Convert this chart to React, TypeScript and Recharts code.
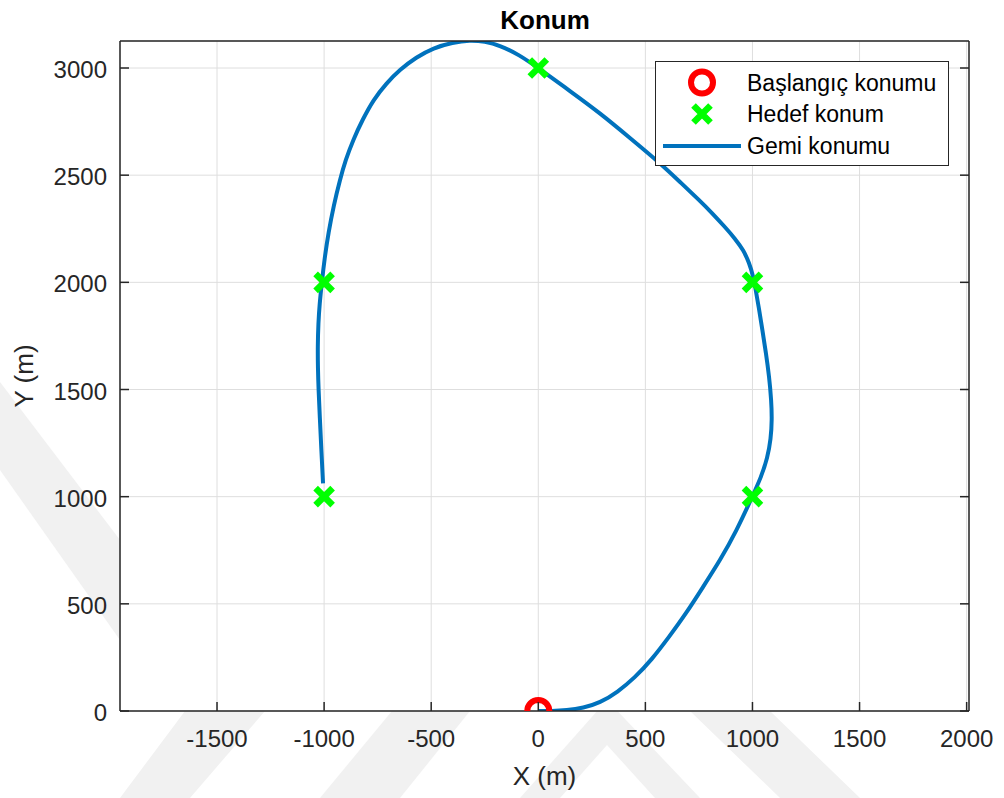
import { CartesianGrid, ComposedChart, Line, Scatter, XAxis, YAxis } from "recharts";

// axis setup (equal aspect)
const xTicks = [-1500, -1000, -500, 0, 500, 1000, 1500, 2000];
const yTicks = [0, 500, 1000, 1500, 2000, 2500, 3000];
const xDomain = [-1953, 2011];
const yDomain = [0, 3126];

// start position
const startX = [0];
const startY = [0];

// target waypoints
const targetX = [-1000, -1000, 0, 1000, 1000];
const targetY = [1000, 2000, 3000, 2000, 1000];

// ship trajectory, in travel order
const pathX = [
  0, 60, 132, 210, 288, 370, 450, 530, 610, 690, 770, 850, 925, 996, 1040, 1070, 1086, 1091,
  1088, 1078, 1063, 1046, 1030, 1016, 1003, 985, 958, 918, 870, 810, 755, 660, 568, 430, 288,
  150, 0, -90, -179, -250, -319, -400, -490, -570, -646, -710, -770, -820, -864, -900, -926,
  -955, -980, -998, -1011, -1021, -1027, -1030, -1029, -1026, -1020, -1013, -1005,
];
const pathY = [
  0, 0, 3, 14, 38, 88, 155, 240, 345, 455, 580, 705, 840, 993, 1090, 1180, 1270, 1360, 1450,
  1560, 1670, 1780, 1880, 1960, 2030, 2090, 2150, 2205, 2260, 2325, 2380, 2470, 2557, 2672,
  2790, 2891, 3000, 3062, 3105, 3124, 3130, 3119, 3094, 3050, 2993, 2928, 2852, 2760, 2666,
  2570, 2479, 2360, 2230, 2110, 1997, 1900, 1810, 1700, 1600, 1500, 1370, 1220, 1062,
];

const seriesNames = ["Başlangıç konumu", "Hedef konum", "Gemi konumu"];

const startData = startX.map((x, i) => ({ x, y: startY[i] }));
const targetData = targetX.map((x, i) => ({ x, y: targetY[i] }));
const pathData = pathX.map((x, i) => ({ x, y: pathY[i] }));

const AXIS = "#262626";
const FONT = "'Liberation Sans', Arial, sans-serif";
const TICK_LEN = 9;
const BLUE = "#0072BD";
const RED = "#FF0000";
const GREEN = "#00FF00";

function BottomTick({ x, y, payload }: any) {
  return (
    <g>
      <line x1={x} y1={y} x2={x} y2={y - TICK_LEN} stroke={AXIS} strokeWidth={1.5} />
      <text x={x} y={y + 36} textAnchor="middle" fill={AXIS} fontSize={24} fontFamily={FONT}>
        {payload.value}
      </text>
    </g>
  );
}

function TopTick({ x, y }: any) {
  return <line x1={x} y1={y} x2={x} y2={y + TICK_LEN} stroke={AXIS} strokeWidth={1.5} />;
}

function LeftTick({ x, y, payload }: any) {
  return (
    <g>
      <line x1={x} y1={y} x2={x + TICK_LEN} y2={y} stroke={AXIS} strokeWidth={1.5} />
      <text x={x - 13} y={y + 10} textAnchor="end" fill={AXIS} fontSize={24} fontFamily={FONT}>
        {payload.value}
      </text>
    </g>
  );
}

function RightTick({ x, y }: any) {
  return <line x1={x} y1={y} x2={x - TICK_LEN} y2={y} stroke={AXIS} strokeWidth={1.5} />;
}

function Ring({ cx, cy }: any) {
  return <circle cx={cx} cy={cy} r={11} fill="none" stroke={RED} strokeWidth={6} />;
}

function Cross({ cx, cy }: any) {
  const s = 8.5;
  return (
    <path
      d={`M${cx - s},${cy - s}L${cx + s},${cy + s}M${cx - s},${cy + s}L${cx + s},${cy - s}`}
      stroke={GREEN}
      strokeWidth={6.5}
      fill="none"
    />
  );
}

function Watermark() {
  const c = "#f1f1f1";
  return (
    <svg width={1004} height={798} style={{ position: "absolute", left: 0, top: 0 }}>
      <polygon points="0,382 0,470 120,640 120,540" fill={c} />
      <polygon points="120,798 190,798 265,711 185,711" fill={c} />
      <polygon points="320,798 400,798 470,711 392,711" fill={c} />
      <polygon points="520,798 560,798 607,745 655,798 700,798 607,700" fill={c} />
      <polygon points="690,711 770,711 860,798 780,798" fill={c} />
    </svg>
  );
}

function Overlay() {
  const rows = [82.5, 114, 146];
  return (
    <svg width={1004} height={798} style={{ position: "absolute", left: 0, top: 0 }}>
      <text x={545} y={29} textAnchor="middle" fontWeight="bold" fontSize={26} fontFamily={FONT} fill="#000">
        Konum
      </text>
      <text x={544.5} y={785} textAnchor="middle" fontSize={26} fontFamily={FONT} fill={AXIS}>
        X (m)
      </text>
      <text
        x={0}
        y={0}
        transform="translate(33,376) rotate(-90)"
        textAnchor="middle"
        fontSize={26}
        fontFamily={FONT}
        fill={AXIS}
      >
        Y (m)
      </text>
      <rect x={655.5} y={61.5} width={293} height={104} fill="#fff" stroke={AXIS} strokeWidth={1} />
      <Ring cx={702} cy={rows[0]} />
      <Cross cx={702} cy={rows[1]} />
      <line x1={663} y1={rows[2]} x2={741} y2={rows[2]} stroke={BLUE} strokeWidth={4} />
      {seriesNames.map((name, i) => (
        <text key={name} x={747} y={rows[i] + 8} fontSize={23} fontFamily={FONT} fill="#000">
          {name}
        </text>
      ))}
    </svg>
  );
}

export default function App() {
  return (
    <div style={{ position: "absolute", left: 0, top: 0, width: 1004, height: 798, background: "#fff" }}>
      <Watermark />
      <div style={{ position: "absolute", left: 0, top: 0 }}>
        <ComposedChart width={1004} height={798} margin={{ top: 0, right: 0, bottom: 0, left: 0 }}>
          <CartesianGrid stroke="#dedede" fill="#ffffff" />
          <XAxis
            dataKey="x"
            type="number"
            domain={xDomain}
            ticks={xTicks}
            interval={0}
            allowDataOverflow
            height={87}
            tickSize={0}
            tickMargin={0}
            tick={BottomTick}
            axisLine={{ stroke: AXIS, strokeWidth: 1.5 }}
          />
          <XAxis
            xAxisId="top"
            orientation="top"
            type="number"
            domain={xDomain}
            ticks={xTicks}
            interval={0}
            allowDataOverflow
            height={41}
            tickSize={0}
            tickMargin={0}
            tick={TopTick}
            axisLine={{ stroke: AXIS, strokeWidth: 1.5 }}
          />
          <YAxis
            dataKey="y"
            type="number"
            domain={yDomain}
            ticks={yTicks}
            interval={0}
            allowDataOverflow
            width={120}
            tickSize={0}
            tickMargin={0}
            tick={LeftTick}
            axisLine={{ stroke: AXIS, strokeWidth: 1.5 }}
          />
          <YAxis
            yAxisId="right"
            orientation="right"
            type="number"
            domain={yDomain}
            ticks={yTicks}
            interval={0}
            allowDataOverflow
            width={35}
            tickSize={0}
            tickMargin={0}
            tick={RightTick}
            axisLine={{ stroke: AXIS, strokeWidth: 1.5 }}
          />
          <Scatter name={seriesNames[0]} data={startData} shape={Ring} isAnimationActive={false} />
          <Scatter name={seriesNames[1]} data={targetData} shape={Cross} isAnimationActive={false} />
          <Line
            name={seriesNames[2]}
            data={pathData}
            dataKey="y"
            type="basis"
            stroke={BLUE}
            strokeWidth={4}
            dot={false}
            activeDot={false}
            isAnimationActive={false}
          />
        </ComposedChart>
      </div>
      <Overlay />
    </div>
  );
}
